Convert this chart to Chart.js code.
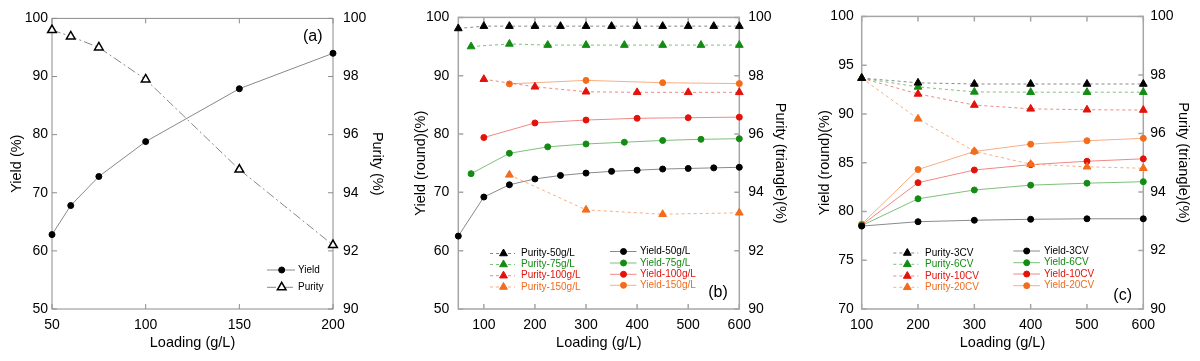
<!DOCTYPE html>
<html>
<head>
<meta charset="utf-8">
<script src="https://cdn.jsdelivr.net/npm/chart.js@4.4.0/dist/chart.umd.min.js"></script>
<style>
  body { margin: 0; background: #fff; }
  .wrap { display: flex; width: 1200px; height: 361px; }
  canvas { display: block; }
</style>
</head>
<body>
<div class="wrap">
  <canvas id="chartA" width="400" height="361"></canvas>
  <canvas id="chartB" width="400" height="361"></canvas>
  <canvas id="chartC" width="400" height="361"></canvas>
</div>
<script>
// ---- panel (a) ----
const loadA = [50, 60, 75, 100, 150, 200];
const yieldA = [62.8, 67.8, 72.8, 78.8, 87.9, 94.0];
const purityA = [99.6, 99.38, 99.0, 97.9, 94.8, 92.2];

// ---- panel (b) ----
const load50 = [50, 100, 150, 200, 250, 300, 350, 400, 450, 500, 550, 600];
const load75 = [75, 150, 225, 300, 375, 450, 525, 600];
const load100 = [100, 200, 300, 400, 500, 600];
const load150 = [150, 300, 450, 600];
const purity50 = [99.62, 99.7, 99.7, 99.7, 99.7, 99.7, 99.7, 99.7, 99.7, 99.7, 99.7, 99.7];
const purity75 = [99.0, 99.09, 99.05, 99.05, 99.05, 99.05, 99.05, 99.05];
const purity100 = [97.88, 97.62, 97.45, 97.43, 97.43, 97.43];
const purity150 = [94.6, 93.4, 93.25, 93.3];
const yield50 = [62.5, 69.2, 71.3, 72.3, 72.9, 73.3, 73.6, 73.8, 74.0, 74.1, 74.2, 74.3];
const yield75 = [73.2, 76.7, 77.8, 78.3, 78.6, 78.9, 79.1, 79.2];
const yield100 = [79.4, 81.9, 82.4, 82.7, 82.8, 82.9];
const yield150 = [88.6, 89.2, 88.8, 88.65];

// ---- panel (c) ----
const loadC = [100, 200, 300, 400, 500, 600];
const purity3CV = [97.89, 97.73, 97.69, 97.69, 97.69, 97.69];
const purity6CV = [97.89, 97.59, 97.42, 97.41, 97.41, 97.41];
const purity10CV = [97.89, 97.35, 96.97, 96.84, 96.81, 96.8];
const purity20CV = [97.89, 96.5, 95.39, 94.95, 94.86, 94.81];
const yield3CV = [78.5, 78.95, 79.1, 79.2, 79.25, 79.25];
const yield6CV = [78.55, 81.3, 82.2, 82.7, 82.9, 83.05];
const yield10CV = [78.6, 82.95, 84.25, 84.8, 85.15, 85.4];
const yield20CV = [78.7, 84.3, 86.15, 86.9, 87.25, 87.5];

// tick labels
const xTicksA = [50, 100, 150, 200];
const xTicksBC = [100, 200, 300, 400, 500, 600];

const FONT = '"Liberation Sans", Arial, sans-serif';
const BLACK = '#000000', GREEN = '#148c14', RED = '#e3120b', ORANGE = '#f36c1c';
const LINE = {
  black: '#8a8a8a',
  green: 'rgba(20,140,20,0.55)',
  red: 'rgba(227,18,11,0.5)',
  orange: 'rgba(243,108,28,0.55)'
};

function series(label, xs, ys, axis, o) {
  return {
    label: label,
    yAxisID: axis,
    data: xs.map((x, i) => ({ x: x, y: ys[i] })),
    borderColor: o.line,
    borderWidth: 1,
    borderDash: o.dash || [],
    pointStyle: o.style,
    pointRadius: o.r,
    pointHoverRadius: o.r,
    pointBackgroundColor: o.fill,
    pointBorderColor: o.color,
    pointBorderWidth: o.bw || 1,
    tension: 0,
    clip: false,
    textColor: o.color
  };
}

// frame around the plot with inward ticks
const framePlugin = {
  id: 'frame',
  beforeDatasetsDraw(chart, args, opts) {
    const { ctx, chartArea: a, scales } = chart;
    const L = 5;
    ctx.save();
    ctx.strokeStyle = opts.color;
    ctx.lineWidth = opts.width;
    ctx.strokeRect(a.left, a.top, a.right - a.left, a.bottom - a.top);
    ctx.beginPath();
    scales.x.ticks.forEach(t => {
      const p = scales.x.getPixelForValue(t.value);
      ctx.moveTo(p, a.bottom); ctx.lineTo(p, a.bottom - L);
      ctx.moveTo(p, a.top); ctx.lineTo(p, a.top + L);
    });
    scales.y.ticks.forEach(t => {
      const p = scales.y.getPixelForValue(t.value);
      ctx.moveTo(a.left, p); ctx.lineTo(a.left + L, p);
    });
    scales.y2.ticks.forEach(t => {
      const p = scales.y2.getPixelForValue(t.value);
      ctx.moveTo(a.right, p); ctx.lineTo(a.right - L, p);
    });
    ctx.stroke();
    ctx.restore();
  }
};

// panel tag + hand-placed legend columns
const notePlugin = {
  id: 'note',
  afterDatasetsDraw(chart, args, opts) {
    const { ctx } = chart;
    ctx.save();
    ctx.fillStyle = '#000';
    ctx.font = '16px ' + FONT;
    ctx.textAlign = 'center';
    ctx.textBaseline = 'middle';
    ctx.fillText(opts.tag, opts.tagX, opts.tagY);
    ctx.font = opts.legendFont + 'px ' + FONT;
    ctx.textAlign = 'left';
    opts.columns.forEach(col => {
      col.items.forEach((idx, k) => {
        const ds = chart.data.datasets[idx];
        const y = col.ys[k];
        ctx.save();
        ctx.strokeStyle = ds.borderColor;
        ctx.lineWidth = 1;
        ctx.setLineDash(ds.borderDash);
        ctx.beginPath();
        ctx.moveTo(col.x0, y); ctx.lineTo(col.x1, y);
        ctx.stroke();
        ctx.setLineDash([]);
        ctx.fillStyle = ds.pointBackgroundColor;
        ctx.strokeStyle = ds.pointBorderColor;
        ctx.lineWidth = ds.pointBorderWidth;
        Chart.helpers.drawPoint(ctx, { pointStyle: ds.pointStyle, radius: ds.pointRadius, rotation: 0, borderWidth: ds.pointBorderWidth }, col.mx, y);
        ctx.restore();
        ctx.fillStyle = ds.textColor;
        ctx.fillText(ds.label, col.tx, y);
      });
    });
    ctx.restore();
  }
};

function makeChart(id, cfg) {
  const tickFont = { family: FONT, size: 14 };
  const titleFont = { family: FONT, size: 14.5 };
  new Chart(document.getElementById(id), {
    type: 'line',
    data: { datasets: cfg.datasets },
    plugins: [framePlugin, notePlugin],
    options: {
      responsive: false,
      animation: false,
      layout: { padding: { top: 15, left: 0, right: 0, bottom: 0 } },
      plugins: {
        legend: { display: false },
        tooltip: { enabled: false },
        frame: { color: cfg.frameColor, width: cfg.frameWidth },
        note: cfg.note
      },
      scales: {
        x: {
          type: 'linear', position: 'bottom',
          min: cfg.xMin, max: cfg.xMax,
          afterBuildTicks: s => { s.ticks = cfg.xTicks.map(v => ({ value: v })); },
          afterFit: s => { s.height = 52; },
          grid: { display: false, drawTicks: false },
          border: { display: false },
          ticks: { font: tickFont, color: '#000', padding: 7.5, maxRotation: 0, autoSkip: false },
          title: { display: true, text: 'Loading (g/L)', font: titleFont, color: '#000', padding: { top: 0, bottom: 9 } }
        },
        y: {
          position: 'left',
          min: cfg.yMin, max: 100,
          afterFit: s => { s.width = cfg.leftW; },
          grid: { display: false, drawTicks: false },
          border: { display: false },
          ticks: { stepSize: cfg.yStep, font: tickFont, color: '#000', padding: cfg.leftPad },
          title: { display: true, text: cfg.yTitle, font: titleFont, color: '#000', padding: { top: cfg.yTitlePad, bottom: 0 } }
        },
        y2: {
          position: 'right',
          min: 90, max: 100,
          afterFit: s => { s.width = cfg.rightW; },
          grid: { display: false, drawTicks: false },
          border: { display: false },
          ticks: { stepSize: 2, font: tickFont, color: '#000', padding: cfg.rightPad },
          title: { display: true, text: cfg.y2Title, font: titleFont, color: '#000', padding: { top: cfg.y2TitlePad, bottom: 0 } }
        }
      }
    }
  });
}

// ---- (a) ----
makeChart('chartA', {
  datasets: [
    series('Yield', loadA, yieldA, 'y', { color: BLACK, fill: BLACK, line: '#888', style: 'circle', r: 3 }),
    series('Purity', loadA, purityA, 'y2', { color: BLACK, fill: '#fff', line: '#888', dash: [9, 3, 2, 3], style: 'triangle', r: 5, bw: 1.5 })
  ],
  xMin: 50, xMax: 200, xTicks: xTicksA,
  yMin: 50, yStep: 10,
  leftW: 52, rightW: 67, leftPad: 4, rightPad: 10,
  yTitle: 'Yield (%)', y2Title: 'Purity (%)', yTitlePad: 8, y2TitlePad: 14.6,
  frameColor: '#8c8c8c', frameWidth: 1,
  note: {
    tag: '(a)', tagX: 312.7, tagY: 36.7, legendFont: 10,
    columns: [{ items: [0, 1], ys: [270, 287.3], x0: 267, x1: 295, mx: 281.7, tx: 298 }]
  }
});

// ---- (b) ----
makeChart('chartB', {
  datasets: [
    series('Purity-50g/L', load50, purity50, 'y2', { color: BLACK, fill: BLACK, line: LINE.black, dash: [3, 3], style: 'triangle', r: 4.5 }),
    series('Purity-75g/L', load75, purity75, 'y2', { color: GREEN, fill: GREEN, line: LINE.green, dash: [3, 3], style: 'triangle', r: 4.5 }),
    series('Purity-100g/L', load100, purity100, 'y2', { color: RED, fill: RED, line: LINE.red, dash: [3, 3], style: 'triangle', r: 4.5 }),
    series('Purity-150g/L', load150, purity150, 'y2', { color: ORANGE, fill: ORANGE, line: LINE.orange, dash: [3, 3], style: 'triangle', r: 4.5 }),
    series('Yield-50g/L', load50, yield50, 'y', { color: BLACK, fill: BLACK, line: LINE.black, style: 'circle', r: 3 }),
    series('Yield-75g/L', load75, yield75, 'y', { color: GREEN, fill: GREEN, line: LINE.green, style: 'circle', r: 3 }),
    series('Yield-100g/L', load100, yield100, 'y', { color: RED, fill: RED, line: LINE.red, style: 'circle', r: 3 }),
    series('Yield-150g/L', load150, yield150, 'y', { color: ORANGE, fill: ORANGE, line: LINE.orange, style: 'circle', r: 3 })
  ],
  xMin: 50, xMax: 600, xTicks: xTicksBC,
  yMin: 50, yStep: 10,
  leftW: 58.3, rightW: 60.7, leftPad: 9, rightPad: 9,
  yTitle: 'Yield (round)(%)', y2Title: 'Purity (triangle)(%)', yTitlePad: 12, y2TitlePad: 11.3,
  frameColor: '#a6a6a6', frameWidth: 1.5,
  note: {
    tag: '(b)', tagX: 318, tagY: 292.7, legendFont: 10,
    columns: [
      { items: [0, 1, 2, 3], ys: [253.5, 264.5, 275.7, 287], x0: 90, x1: 115, mx: 103.5, tx: 121 },
      { items: [4, 5, 6, 7], ys: [251.5, 263, 274.3, 285.3], x0: 210, x1: 236.5, mx: 223.5, tx: 240 }
    ]
  }
});

// ---- (c) ----
makeChart('chartC', {
  datasets: [
    series('Purity-3CV', loadC, purity3CV, 'y2', { color: BLACK, fill: BLACK, line: LINE.black, dash: [3, 3], style: 'triangle', r: 4.5 }),
    series('Purity-6CV', loadC, purity6CV, 'y2', { color: GREEN, fill: GREEN, line: LINE.green, dash: [3, 3], style: 'triangle', r: 4.5 }),
    series('Purity-10CV', loadC, purity10CV, 'y2', { color: RED, fill: RED, line: LINE.red, dash: [3, 3], style: 'triangle', r: 4.5 }),
    series('Purity-20CV', loadC, purity20CV, 'y2', { color: ORANGE, fill: ORANGE, line: LINE.orange, dash: [3, 3], style: 'triangle', r: 4.5 }),
    series('Yield-3CV', loadC, yield3CV, 'y', { color: BLACK, fill: BLACK, line: LINE.black, style: 'circle', r: 3 }),
    series('Yield-6CV', loadC, yield6CV, 'y', { color: GREEN, fill: GREEN, line: LINE.green, style: 'circle', r: 3 }),
    series('Yield-10CV', loadC, yield10CV, 'y', { color: RED, fill: RED, line: LINE.red, style: 'circle', r: 3 }),
    series('Yield-20CV', loadC, yield20CV, 'y', { color: ORANGE, fill: ORANGE, line: LINE.orange, style: 'circle', r: 3 })
  ],
  xMin: 100, xMax: 600, xTicks: xTicksBC,
  yMin: 70, yStep: 5,
  leftW: 61.7, rightW: 56.7, leftPad: 8, rightPad: 7,
  yTitle: 'Yield (round)(%)', y2Title: 'Purity (triangle)(%)', yTitlePad: 16.3, y2TitlePad: 8,
  frameColor: '#a6a6a6', frameWidth: 1.5,
  note: {
    tag: '(c)', tagX: 322.7, tagY: 295.7, legendFont: 10,
    columns: [
      { items: [0, 1, 2, 3], ys: [253, 264.3, 276, 287.3], x0: 93.3, x1: 118.3, mx: 107.3, tx: 125 },
      { items: [4, 5, 6, 7], ys: [251, 262.7, 274, 285.7], x0: 213.3, x1: 240, mx: 226.7, tx: 244 }
    ]
  }
});
</script>
</body>
</html>
